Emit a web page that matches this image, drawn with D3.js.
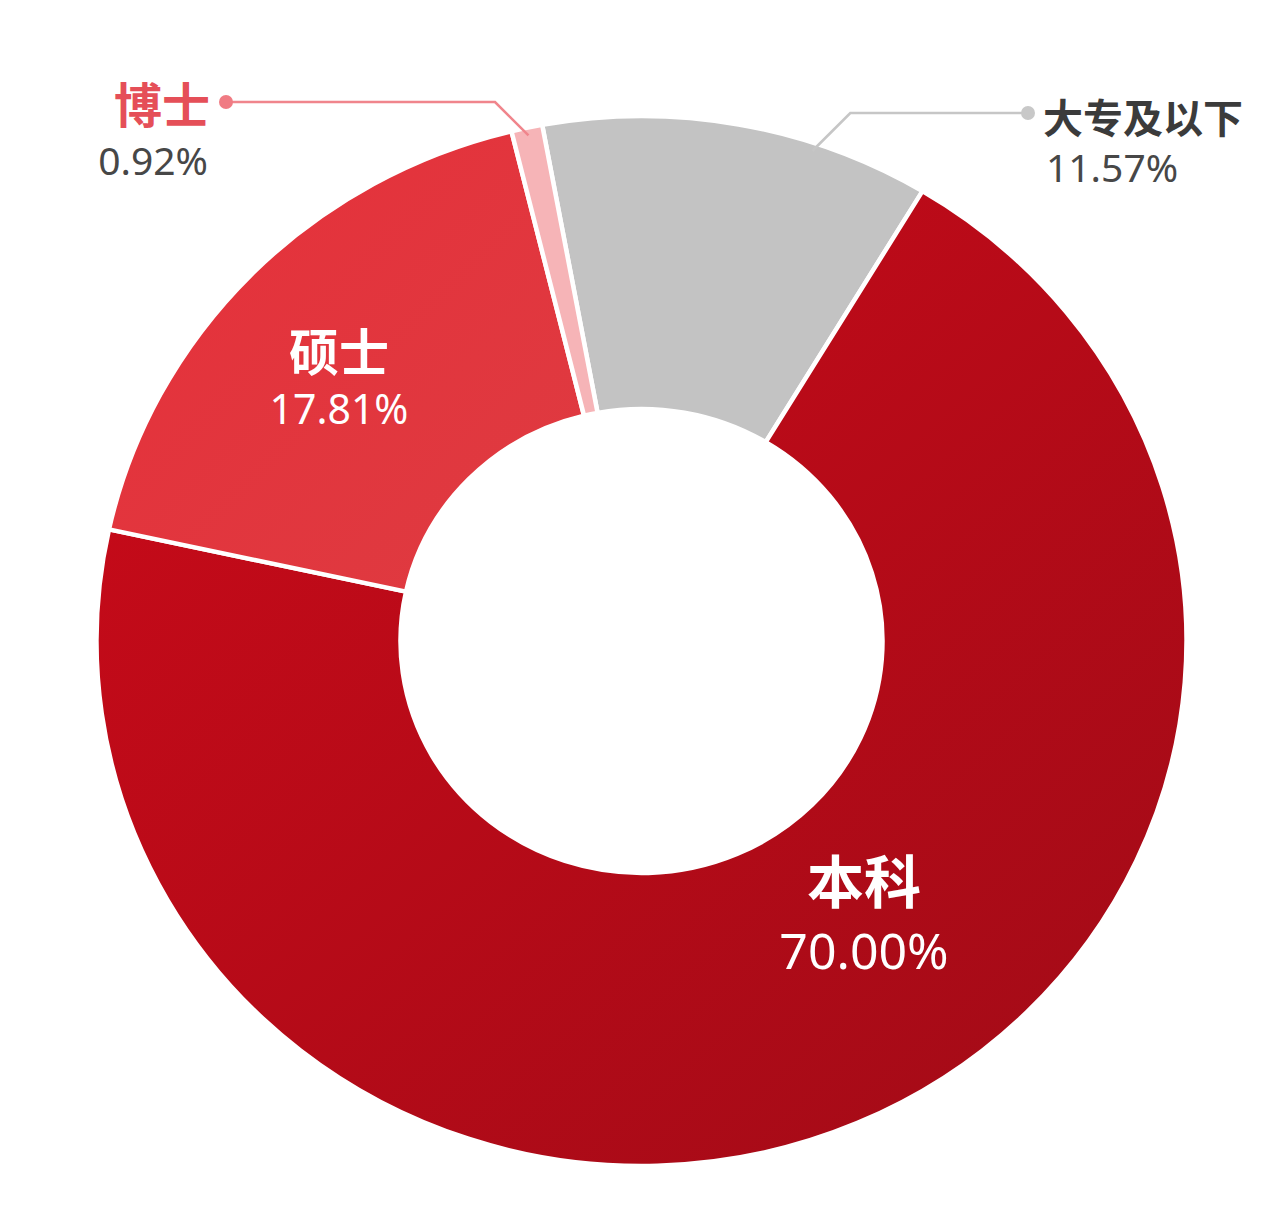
<!DOCTYPE html>
<html>
<head>
<meta charset="utf-8">
<script src="https://cdn.jsdelivr.net/npm/d3@7"></script>
<style>
  body { margin: 0; background: #ffffff; }
  svg { display: block; }
</style>
</head>
<body>
<svg id="chart" width="1283" height="1226"></svg>
<script>
// chart values (clockwise from the top)
const categories = ['大专及以下', '本科', '硕士', '博士'];
const shares = [11.57, 70.00, 17.81, 0.92];
const shareLabels = ['11.57%', '70.00%', '17.81%', '0.92%'];

// layout
const cx = 641.5, cy = 641, squash = 0.963;
const rInner = 241, rOuter = 545;
const startDeg = -10.5;
const rad = Math.PI / 180;

const fills = {
  '大专及以下': '#c3c3c3',
  '本科': 'url(#gradBk)',
  '硕士': 'url(#gradSs)',
  '博士': '#f6b4b7'
};

const svg = d3.select('#chart');
const defs = svg.append('defs');

function addGradient(id, from, to) {
  const lg = defs.append('linearGradient').attr('id', id)
    .attr('x1', 0).attr('y1', 0).attr('x2', 1).attr('y2', 1);
  lg.append('stop').attr('offset', '0%').attr('stop-color', from);
  lg.append('stop').attr('offset', '100%').attr('stop-color', to);
}
addGradient('gradBk', '#cb0a19', '#a10b17');
addGradient('gradSs', '#e6303a', '#de3b41');

const pie = d3.pie()
  .sort(null)
  .value(d => d.value)
  .startAngle(startDeg * rad)
  .endAngle((startDeg + 360) * rad);

const slices = pie(categories.map((c, i) => ({ name: c, value: shares[i], label: shareLabels[i] })));
const byName = {};
slices.forEach(s => byName[s.data.name] = s);

const arc = d3.arc().innerRadius(rInner).outerRadius(rOuter);

const g = svg.append('g')
  .attr('transform', `translate(${cx},${cy}) scale(1,${squash})`);

g.selectAll('path')
  .data(slices)
  .join('path')
  .attr('d', arc)
  .attr('fill', d => fills[d.data.name])
  .attr('stroke', '#ffffff')
  .attr('stroke-width', 4.5)
  .attr('stroke-linejoin', 'round');

// point on the squashed ring
function polar(a, r) {
  return [cx + r * Math.sin(a), cy - squash * r * Math.cos(a)];
}

// labels inside the ring
const inside = [
  { name: '硕士', x: 339, y: 349, t: 50, n: 41, gap: 75 },
  { name: '本科', x: 864, y: 878, t: 57, n: 50, gap: 91 }
];
inside.forEach(o => {
  const d = byName[o.name].data;
  svg.append('text')
    .attr('x', o.x).attr('y', o.y)
    .attr('text-anchor', 'middle')
    .attr('dominant-baseline', 'central')
    .style('font-family', '"Noto Sans CJK SC", sans-serif')
    .style('font-weight', 700)
    .style('font-size', o.t + 'px')
    .attr('fill', '#ffffff')
    .text(d.name);
  svg.append('text')
    .attr('x', o.x).attr('y', o.y + o.gap)
    .attr('text-anchor', 'middle')
    .style('font-family', '"Noto Sans", sans-serif')
    .style('font-size', o.n + 'px')
    .attr('fill', '#ffffff')
    .text(d.label);
});

// labels outside with leader lines
const outside = [
  { name: '博士', side: -1, at: 0.5, dot: [226, 102], tx: 210, ty: 101.5, t: 48, n: 39, ny: 175,
    title: '#e54f58', line: '#f0858c', dotFill: '#f07b83' },
  { name: '大专及以下', side: 1, at: 0.7, dot: [1028, 113], tx: 1043, ty: 115.5, t: 40, n: 39, ny: 181.5,
    title: '#3b3b3b', line: '#c6c6c6', dotFill: '#c8c8c8' }
];
outside.forEach(o => {
  const s = byName[o.name];
  const a = s.startAngle + o.at * (s.endAngle - s.startAngle);
  const p = polar(a, rOuter - 8);
  const elbow = [p[0] + o.side * (p[1] - o.dot[1]), o.dot[1]];
  svg.append('path')
    .attr('d', d3.line()([p, elbow, o.dot]))
    .attr('fill', 'none')
    .attr('stroke', o.line)
    .attr('stroke-width', 2.6);
  svg.append('circle')
    .attr('cx', o.dot[0]).attr('cy', o.dot[1]).attr('r', 7)
    .attr('fill', o.dotFill);
  const anchor = o.side < 0 ? 'end' : 'start';
  svg.append('text')
    .attr('x', o.tx).attr('y', o.ty)
    .attr('text-anchor', anchor)
    .attr('dominant-baseline', 'central')
    .style('font-family', '"Noto Sans CJK SC", sans-serif')
    .style('font-weight', 700)
    .style('font-size', o.t + 'px')
    .attr('fill', o.title)
    .text(s.data.name);
  svg.append('text')
    .attr('x', o.side < 0 ? o.tx - 2 : o.tx + 3)
    .attr('y', o.ny)
    .attr('text-anchor', anchor)
    .style('font-family', '"Noto Sans", sans-serif')
    .style('font-size', o.n + 'px')
    .attr('fill', '#474747')
    .text(s.data.label);
});
</script>
</body>
</html>
